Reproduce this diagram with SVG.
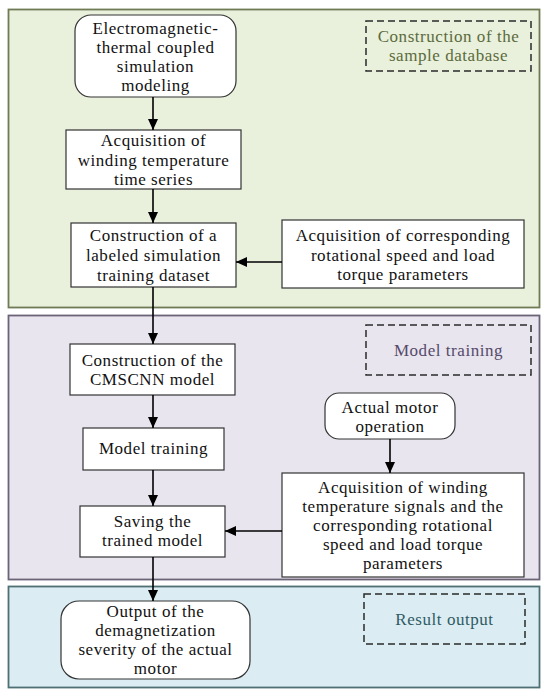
<svg xmlns="http://www.w3.org/2000/svg" width="550" height="699" viewBox="0 0 550 699">
<style>
.t{font-family:"Liberation Serif","Times New Roman",serif;font-size:17px;letter-spacing:0.55px;fill:#111;text-anchor:middle}
.box{fill:#fff;stroke:#333;stroke-width:1.2}
.dash{fill:none;stroke:#2a2a2a;stroke-width:1.5;stroke-dasharray:7,4}
.con{stroke:#000;stroke-width:1.6;fill:none;marker-end:url(#ah)}
</style>
<defs>
<marker id="ah" markerUnits="userSpaceOnUse" markerWidth="12" markerHeight="12" viewBox="0 0 12 12" refX="11" refY="6" orient="auto">
<path d="M0,1 L11,6 L0,11 Z" fill="#000"/>
</marker>
</defs>
<rect width="550" height="699" fill="#fff"/>
<g id="panel-database">
<rect x="8.5" y="9.5" width="531" height="298" fill="#e9f0dc" stroke="#6f7b55" stroke-width="1.8"/>
<rect class="dash" x="366" y="21" width="165" height="50"/>
<text class="t" style="fill:#5b6b3c" x="448.5"><tspan x="448.5" y="42">Construction of the</tspan><tspan x="448.5" y="61">sample database</tspan></text>
</g>
<g id="panel-training">
<rect x="8.5" y="315.5" width="531" height="264" fill="#e9e5ef" stroke="#6b6378" stroke-width="1.8"/>
<rect class="dash" x="366" y="325" width="165" height="50"/>
<text class="t" style="fill:#554a6a" x="448.5" y="356">Model training</text>
</g>
<g id="panel-output">
<rect x="8.5" y="586.5" width="531" height="101" fill="#dbedf3" stroke="#4e6f73" stroke-width="1.8"/>
<rect class="dash" x="364" y="594" width="161" height="50"/>
<text class="t" style="fill:#2f5b63" x="444.5" y="625">Result output</text>
</g>
<g id="n1">
<rect class="box" x="75" y="15" width="161" height="82" rx="16"/>
<text class="t"><tspan x="155.5" y="34">Electromagnetic-</tspan><tspan x="155.5" y="53">thermal coupled</tspan><tspan x="155.5" y="72">simulation</tspan><tspan x="155.5" y="91">modeling</tspan></text>
</g>
<g id="n2">
<rect class="box" x="66" y="130" width="175" height="59"/>
<text class="t"><tspan x="153.5" y="146">Acquisition of</tspan><tspan x="153.5" y="165.5">winding temperature</tspan><tspan x="153.5" y="185">time series</tspan></text>
</g>
<g id="n3">
<rect class="box" x="71" y="223" width="165" height="64"/>
<text class="t"><tspan x="153.5" y="241">Construction of a</tspan><tspan x="153.5" y="261">labeled simulation</tspan><tspan x="153.5" y="281">training dataset</tspan></text>
</g>
<g id="n4">
<rect class="box" x="282" y="220" width="242" height="68"/>
<text class="t"><tspan x="403" y="241">Acquisition of corresponding</tspan><tspan x="403" y="260.5">rotational speed and load</tspan><tspan x="403" y="280">torque parameters</tspan></text>
</g>
<g id="n5">
<rect class="box" x="70" y="344" width="165" height="51"/>
<text class="t"><tspan x="152.5" y="366">Construction of the</tspan><tspan x="152.5" y="385">CMSCNN model</tspan></text>
</g>
<g id="n6">
<rect class="box" x="83" y="428" width="141" height="42"/>
<text class="t" x="153.5" y="454">Model training</text>
</g>
<g id="n7">
<rect class="box" x="80" y="506" width="145" height="51"/>
<text class="t"><tspan x="152.5" y="527">Saving the</tspan><tspan x="152.5" y="546">trained model</tspan></text>
</g>
<g id="n8">
<rect class="box" x="325" y="393" width="130" height="46" rx="14"/>
<text class="t"><tspan x="390" y="413">Actual motor</tspan><tspan x="390" y="432">operation</tspan></text>
</g>
<g id="n9">
<rect class="box" x="282" y="473" width="242" height="104"/>
<text class="t"><tspan x="403" y="493">Acquisition of winding</tspan><tspan x="403" y="512">temperature signals and the</tspan><tspan x="403" y="531">corresponding rotational</tspan><tspan x="403" y="550">speed and load torque</tspan><tspan x="403" y="569">parameters</tspan></text>
</g>
<g id="n10">
<rect class="box" x="61" y="601" width="189" height="78" rx="18"/>
<text class="t"><tspan x="155.5" y="617">Output of the</tspan><tspan x="155.5" y="636">demagnetization</tspan><tspan x="155.5" y="655">severity of the actual</tspan><tspan x="155.5" y="674">motor</tspan></text>
</g>
<g id="connectors">
<line class="con" x1="153" y1="97" x2="153" y2="130"/>
<line class="con" x1="153" y1="189" x2="153" y2="223"/>
<line class="con" x1="282" y1="262" x2="236" y2="262"/>
<line class="con" x1="153" y1="287" x2="153" y2="344"/>
<line class="con" x1="153" y1="395" x2="153" y2="428"/>
<line class="con" x1="153" y1="470" x2="153" y2="506"/>
<line class="con" x1="390" y1="439" x2="390" y2="473"/>
<line class="con" x1="282" y1="531" x2="225" y2="531"/>
<line class="con" x1="153" y1="557" x2="153" y2="601"/>
</g>
</svg>
